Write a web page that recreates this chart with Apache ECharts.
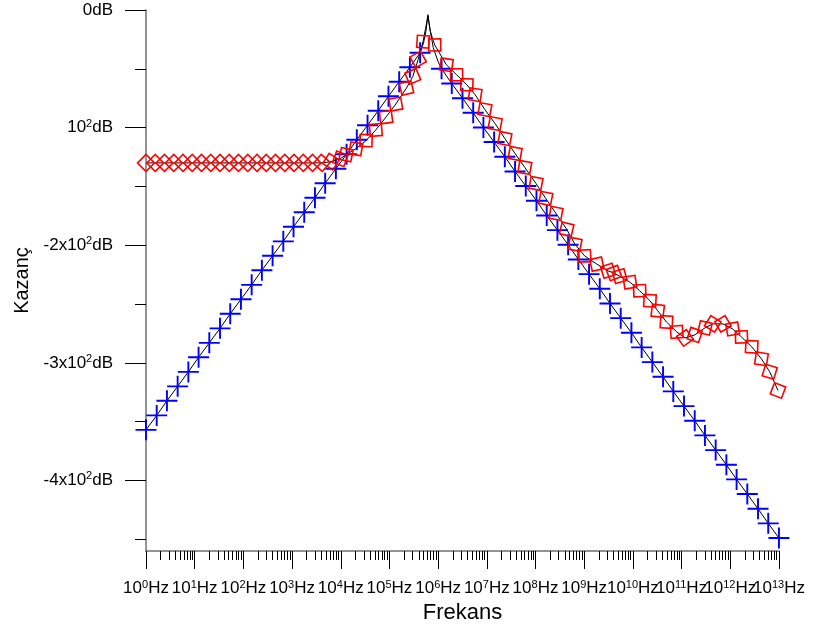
<!DOCTYPE html>
<html>
<head>
<meta charset="utf-8">
<script src="https://cdn.jsdelivr.net/npm/echarts@6/dist/echarts.min.js"></script>
<style>
html, body { margin: 0; padding: 0; background: #ffffff; }
#chart { width: 816px; height: 630px; }
</style>
</head>
<body>
<div id="chart"></div>
<script>
// Frequency is plotted as decade exponent: x = log10(f / 1 Hz)
const decadeExps = [0, 1, 2, 3, 4, 5, 6, 7, 8, 9, 10, 11, 12, 13];
const minorSteps = [2, 3, 4, 5, 6, 7, 8, 9];

// Gain axis ticks (dB)
const yMajorValues = [0, -100, -200, -300, -400];
const yMinorValues = [-50, -150, -250, -350, -450];
const yLabelBase = ['0', '10', '-2x10', '-3x10', '-4x10'];
const yLabelSup = ['', '2', '2', '2', '2'];

// Trace 1 (blue "+" marks): marker positions (decade exponent) and gain (dB)
const blueExp = [0, 0.22, 0.43, 0.65, 0.87, 1.08, 1.3, 1.52, 1.73, 1.95, 2.17, 2.38, 2.6, 2.82, 3.03,
  3.25, 3.47, 3.68, 3.9, 4.12, 4.33, 4.55, 4.77, 4.98, 5.2, 5.42, 5.63,
  6.07, 6.28, 6.5, 6.72, 6.93, 7.15, 7.37, 7.58, 7.8, 8.02, 8.23, 8.45, 8.67, 8.88, 9.1,
  9.32, 9.53, 9.75, 9.97, 10.18, 10.4, 10.62, 10.83, 11.05, 11.27, 11.48, 11.7, 11.92, 12.13,
  12.35, 12.57, 12.78, 13];
const blueDb = [-357, -344.7, -332.3, -320, -307.7, -295.3, -283, -270.7, -258.3, -246, -233.7, -221.3, -209, -196.7, -184.3,
  -172, -159.7, -147.3, -135, -122.7, -110.3, -98, -85.7, -73.3, -61, -48.7, -36.4,
  -50, -62.5, -75, -87.4, -99.9, -112.3, -124.8, -137.3, -149.7, -162.2, -174.7, -187.2, -199.6, -212.1, -224.6,
  -237, -249.5, -262, -274.4, -286.9, -299.4, -311.9, -324.3, -336.8, -349.3, -361.7, -374.2, -386.7, -399.1,
  -411.6, -424.1, -436.5, -449];
// Trace 1 resonance spike (line only)
const blueSpikeExp = [5.7, 5.75, 5.79, 5.83, 5.9, 6.0];
const blueSpikeDb = [-28, -18, -4, -16, -32, -44];

// Trace 2 (red square marks)
const redExp = [0, 0.19, 0.38, 0.57, 0.76, 0.95, 1.14, 1.33, 1.52, 1.71, 1.9, 2.09, 2.28, 2.47, 2.66,
  2.85, 3.04, 3.23, 3.42, 3.61, 3.8, 3.99, 4.11, 4.31, 4.52, 4.72, 4.93, 5.13, 5.35, 5.48, 5.59, 5.69,
  5.93, 6.17, 6.38, 6.59, 6.76, 6.96, 7.17, 7.37, 7.58, 7.78, 8.01, 8.21, 8.42, 8.64, 8.81,
  9.01, 9.26, 9.49, 9.61, 9.73, 9.94, 10.14, 10.35, 10.51, 10.69, 10.9, 11.07, 11.27, 11.48,
  11.64, 11.85, 12.05, 12.23, 12.44, 12.64, 12.81, 12.98];
const redDb = [-130, -130, -130, -130, -130, -130, -130, -130, -130, -130, -130, -130, -130, -130, -130,
  -130, -130, -130, -130, -130, -129, -126.5, -123, -118, -111, -102, -91, -80, -66.4, -56.5, -42, -26.9,
  -29.7, -46.6, -55.1, -63.6, -72, -84.7, -96.6, -109.3, -122, -133.9, -147.5, -160.2, -172.9, -186.4, -199.2,
  -209.1, -216.1, -221.8, -223.7, -226.3, -231.4, -238.7, -247.2, -255.7, -265.3, -273.7, -278.8, -276.3, -270.3,
  -266.9, -266.9, -271.2, -278, -286.4, -296.6, -307.6, -323.5];
// Trace 2 resonance spike (line only)
const redSpikeExp = [5.74, 5.79, 5.84, 5.89];
const redSpikeDb = [-16, -5, -18, -25];

const FONT = '"Liberation Sans", Arial, sans-serif';
// small headroom so the last decade tick sits inside the axis extent
const X_MAX = 13.001;

function mergeTrace(ex, db, sx, sdb) {
  const pts = ex.map((e, i) => [e, db[i]]).concat(sx.map((e, i) => [e, sdb[i]]));
  pts.sort((a, b) => a[0] - b[0]);
  return pts;
}

const minorX = [];
decadeExps.slice(0, -1).forEach(d => minorSteps.forEach(m => minorX.push(d + Math.log10(m))));
// decade labels are split over the two overlaid axes so that neighbouring
// (touching) labels are never hidden by the overlap check
const evenDecades = decadeExps.filter(d => d % 2 === 0);
const oddDecades = decadeExps.filter(d => d % 2 === 1);

const labelRich = {
  n: { fontSize: 17, fontFamily: FONT, color: '#000', lineHeight: 19 },
  s: { fontSize: 11, fontFamily: FONT, color: '#000', lineHeight: 11, verticalAlign: 'top' }
};
const hzLabel = v => '{n|10}{s|' + Math.round(v) + '}{n|Hz}';

const plotRect = { left: 146, right: 37, top: 10, bottom: 79, containLabel: false };

const option = {
  animation: false,
  backgroundColor: '#ffffff',
  // second grid overlays the first: it carries the minor ticks and half of the decade labels
  grid: [Object.assign({}, plotRect), Object.assign({}, plotRect)],
  xAxis: [
    {
      type: 'value', gridIndex: 0, min: 0, max: X_MAX, position: 'bottom',
      axisLine: { show: true, onZero: false, lineStyle: { color: '#707070', width: 1.5 } },
      axisTick: { show: true, length: 18, customValues: decadeExps, lineStyle: { color: '#000', width: 1 } },
      axisLabel: {
        customValues: evenDecades, margin: 28, hideOverlap: false,
        showMinLabel: true, showMaxLabel: true,
        fontSize: 17, fontFamily: FONT, color: '#000',
        formatter: hzLabel, rich: labelRich
      },
      splitLine: { show: false },
      name: 'Frekans', nameLocation: 'middle', nameGap: 42,
      nameTextStyle: { fontSize: 22, fontFamily: FONT, color: '#000' }
    },
    {
      type: 'value', gridIndex: 1, min: 0, max: X_MAX, position: 'bottom',
      axisLine: { show: false, onZero: false },
      axisTick: { show: true, length: 9, customValues: minorX, lineStyle: { color: '#000', width: 1 } },
      axisLabel: {
        customValues: oddDecades, margin: 28, hideOverlap: false,
        showMinLabel: true, showMaxLabel: true,
        fontSize: 17, fontFamily: FONT, color: '#000',
        formatter: hzLabel, rich: labelRich
      },
      splitLine: { show: false }
    }
  ],
  yAxis: [
    {
      type: 'value', gridIndex: 0, min: -460, max: 0, position: 'left',
      axisLine: { show: true, onZero: false, lineStyle: { color: '#707070', width: 1.5 } },
      axisTick: { show: true, length: 21, customValues: yMajorValues, lineStyle: { color: '#000', width: 1 } },
      axisLabel: {
        customValues: yMajorValues, margin: 33, hideOverlap: false,
        fontSize: 17, fontFamily: FONT, color: '#000',
        formatter: v => {
          const i = yMajorValues.indexOf(Math.round(v));
          if (i < 0) return '';
          return '{n|' + yLabelBase[i] + '}' + (yLabelSup[i] ? '{s|' + yLabelSup[i] + '}' : '') + '{n|dB}';
        },
        rich: labelRich
      },
      splitLine: { show: false },
      name: 'Kazanç', nameLocation: 'middle', nameGap: 108,
      nameTextStyle: { fontSize: 20, fontFamily: FONT, color: '#000' }
    },
    {
      type: 'value', gridIndex: 1, min: -460, max: 0, position: 'left',
      axisLine: { show: false, onZero: false },
      axisTick: { show: true, length: 11, customValues: yMinorValues, lineStyle: { color: '#000', width: 1 } },
      axisLabel: { show: false },
      splitLine: { show: false }
    }
  ],
  series: [
    {
      id: 'blueTrace', type: 'line', xAxisIndex: 0, yAxisIndex: 0,
      data: mergeTrace(blueExp, blueDb, blueSpikeExp, blueSpikeDb),
      showSymbol: false, silent: true, z: 2,
      lineStyle: { color: '#000', width: 1 }
    },
    {
      id: 'redTrace', type: 'line', xAxisIndex: 0, yAxisIndex: 0,
      data: mergeTrace(redExp, redDb, redSpikeExp, redSpikeDb),
      showSymbol: false, silent: true, z: 2,
      lineStyle: { color: '#000', width: 1 }
    },
    {
      id: 'blueMarks', type: 'scatter', xAxisIndex: 0, yAxisIndex: 0,
      data: blueExp.map((e, i) => [e, blueDb[i]]),
      symbol: 'path://M-1,-11H1V11H-1Z M-11,-1H11V1H-11Z',
      symbolSize: 21, silent: true, z: 3,
      itemStyle: { color: '#0000ff', opacity: 1 }
    },
    {
      id: 'redMarks', type: 'scatter', xAxisIndex: 0, yAxisIndex: 0,
      data: redExp.map((e, i) => [e, redDb[i]]),
      symbol: 'rect', symbolSize: 12, silent: true, z: 4,
      itemStyle: { color: 'rgba(0,0,0,0)', borderColor: '#ff0000', borderWidth: 1.6, opacity: 1 }
    }
  ]
};

const chart = echarts.init(document.getElementById('chart'), null, { renderer: 'canvas' });
chart.setOption(option);

// Orient each square mark so its diagonal follows the local direction of the trace
const redPx = redExp.map((e, i) => chart.convertToPixel({ xAxisIndex: 0, yAxisIndex: 0 }, [e, redDb[i]]));
const redItems = redExp.map((e, i) => {
  const a = redPx[Math.max(0, i - 1)];
  const b = redPx[Math.min(redPx.length - 1, i + 1)];
  const ang = Math.atan2(-(b[1] - a[1]), b[0] - a[0]) * 180 / Math.PI;
  return { value: [e, redDb[i]], symbolRotate: 45 + ang };
});
chart.setOption({ series: [{ id: 'redMarks', data: redItems }] });
</script>
</body>
</html>
